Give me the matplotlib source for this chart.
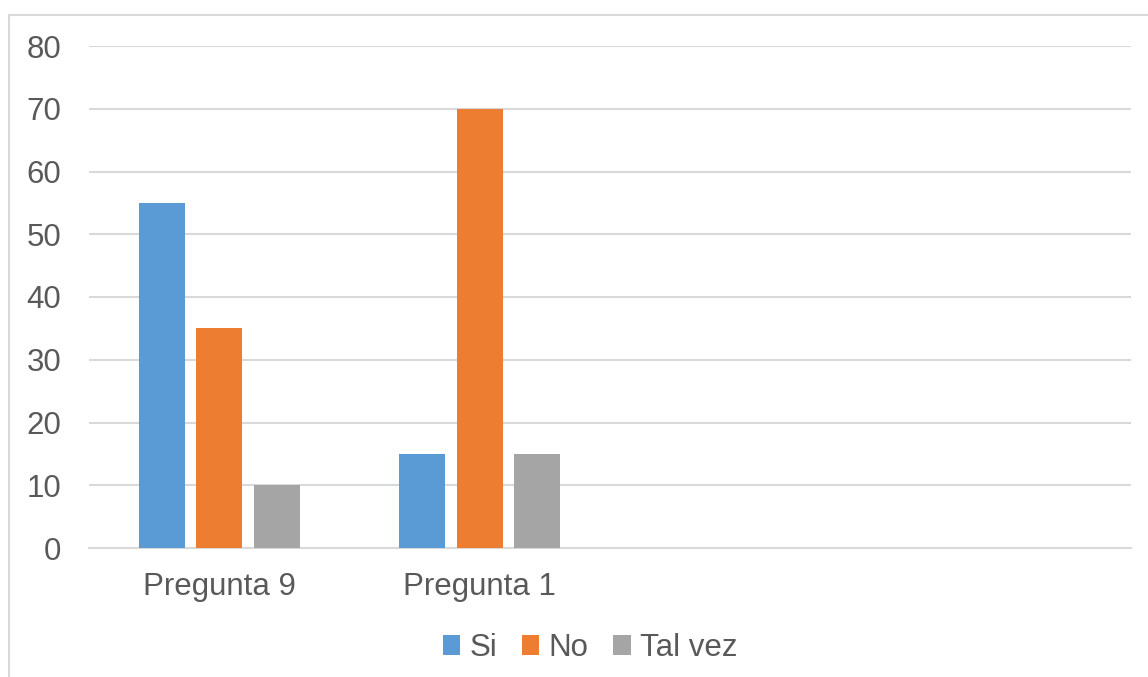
import matplotlib.pyplot as plt
import numpy as np
from matplotlib.patches import Rectangle

# ---------- data ----------
categories = ["Pregunta 9", "Pregunta 1"]
series_names = ["Si", "No", "Tal vez"]
si_vals = [55, 15]
no_vals = [35, 70]
talvez_vals = [10, 15]
n_slots = 4  # chart reserves 4 category slots, last two empty

colors = ["#5B9BD5", "#ED7D31", "#A5A5A5"]
text_color = "#595959"
grid_color = "#D9D9D9"

plt.rcParams["font.family"] = ["Liberation Sans", "DejaVu Sans"]

fig = plt.figure(figsize=(11.48, 6.77), dpi=100)
ax = fig.add_axes([89 / 1148, 1 - 548 / 677, (1131 - 89) / 1148, (548 - 46) / 677])

# outer chart frame
fig.patches.append(Rectangle((9 / 1148, -0.05), 1.2, 1 - 15 / 677 + 0.05,
                             transform=fig.transFigure, fill=False,
                             edgecolor=grid_color, linewidth=1.5))

x = np.arange(len(categories))
width = 0.177
step = 0.22
for i, (name, vals) in enumerate(zip(series_names, [si_vals, no_vals, talvez_vals])):
    ax.bar(x + (i - 1) * step, vals, width, color=colors[i], label=name, zorder=3)

ax.set_xlim(-0.5, n_slots - 0.5)
ax.set_ylim(0, 80)
ax.set_yticks(range(0, 81, 10))
ax.set_xticks(x)
ax.set_xticklabels(categories)

ax.grid(axis="y", color=grid_color, linewidth=1.5, zorder=0)
for s in ["top", "right", "left"]:
    ax.spines[s].set_visible(False)
ax.spines["bottom"].set_color(grid_color)
ax.spines["bottom"].set_linewidth(1.5)
ax.tick_params(axis="both", length=0, labelsize=22.5, colors=text_color)
ax.tick_params(axis="y", pad=20)
ax.tick_params(axis="x", pad=17)

leg = fig.legend(loc="center", bbox_to_anchor=(590 / 1148, 1 - 648 / 677), ncol=3,
                 frameon=False, fontsize=22.5, handlelength=0.55, handleheight=0.6,
                 handletextpad=0.3, columnspacing=0.8)
for t in leg.get_texts():
    t.set_color(text_color)

fig.savefig("out.png", dpi=100)
